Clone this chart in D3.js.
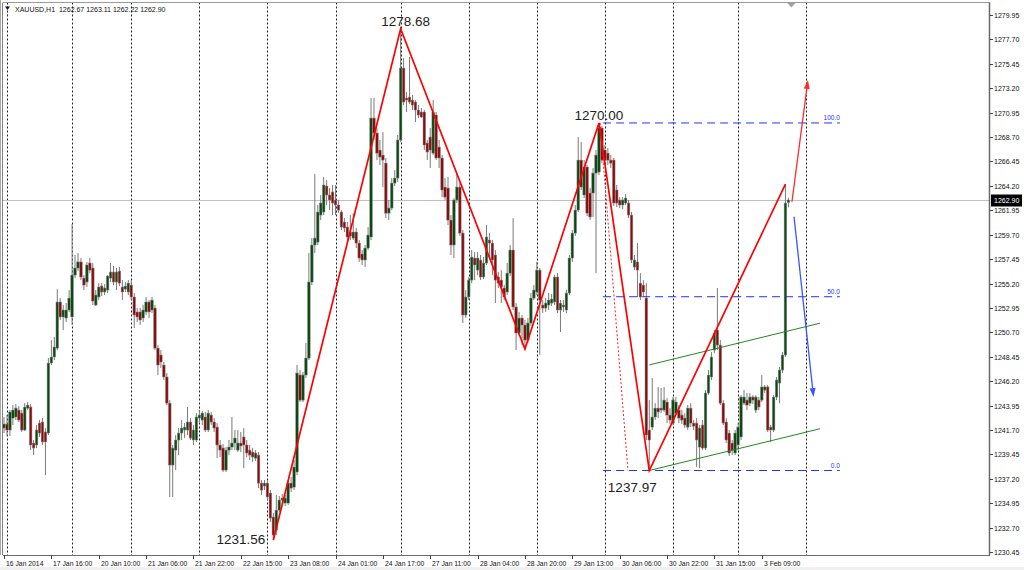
<!DOCTYPE html>
<html><head><meta charset="utf-8">
<script src="https://cdn.jsdelivr.net/npm/d3@7"></script>
<style>body{margin:0;background:#fff;overflow:hidden}svg{display:block;font-family:"Liberation Sans",Arial,sans-serif}</style>
</head><body><svg id="c" width="1024" height="570"></svg>
<script>
// ---------- DATA (XAUUSD H1) ----------
const open=[
1241.88,1242.25,1241.70,1242.80,1242.90,1243.54,1243.26,1241.70,1243.72,1243.82,
1240.50,1240.32,1242.34,1242.44,1241.52,1241.42,1247.87,1248.43,1249.25,1253.50,
1252.12,1252.02,1252.76,1252.12,1255.98,1256.63,1257.19,1255.70,1255.34,1257.09,
1256.63,1253.22,1253.96,1254.97,1254.42,1254.60,1255.70,1256.26,1255.34,1256.35,
1254.88,1254.69,1254.42,1255.06,1253.96,1252.58,1252.58,1252.02,1252.58,1253.50,
1252.76,1252.94,1249.25,1248.61,1247.69,1246.59,1244.18,1238.47,1239.85,1240.78,
1241.42,1241.70,1241.70,1242.44,1240.78,1240.78,1242.80,1242.62,1242.90,1241.70,
1243.08,1242.44,1241.97,1240.32,1240.04,1238.01,1239.85,1240.13,1240.50,1239.85,
1240.50,1241.06,1240.32,1239.85,1239.67,1239.11,1239.39,1236.81,1236.54,1236.81,
1235.89,1233.68,1232.48,1234.32,1235.25,1234.97,1234.97,1236.81,1236.44,1237.83,
1246.77,1244.46,1246.77,1248.33,1255.34,1258.75,1259.02,1261.51,1261.79,1264.19,
1263.36,1263.64,1262.90,1262.44,1261.79,1260.87,1260.41,1259.95,1259.39,1259.95,
1258.93,1257.92,1257.37,1258.47,1259.49,1270.45,1269.07,1267.50,1267.04,1266.30,
1261.69,1262.16,1264.46,1264.92,1268.43,1275.06,1272.30,1272.39,1272.11,1271.93,
1271.19,1271.01,1271.01,1268.15,1268.70,1267.22,1270.73,1267.78,1266.77,1264.09,
1264.00,1261.05,1258.75,1262.90,1264.09,1259.85,1252.30,1253.96,1255.52,1257.55,
1256.44,1257.37,1255.80,1257.09,1259.21,1258.93,1257.83,1255.80,1255.52,1254.79,
1254.42,1256.16,1258.29,1253.04,1250.64,1252.02,1251.38,1249.99,1251.56,1253.86,
1254.42,1256.44,1253.22,1252.94,1253.22,1253.40,1253.50,1255.80,1252.76,1253.22,
1252.76,1254.32,1257.55,1259.85,1261.97,1266.58,1263.36,1265.94,1263.54,1263.54,
1265.38,1265.48,1269.53,1267.50,1267.22,1266.58,1266.58,1263.82,1262.90,1262.44,
1262.62,1262.62,1261.51,1256.72,1257.19,1255.24,1255.06,1253.86,1241.70,1241.97,
1242.90,1243.72,1243.54,1243.54,1244.28,1243.08,1242.34,1243.26,1243.54,1243.08,
1242.80,1241.97,1243.72,1242.34,1242.34,1240.13,1242.16,1240.04,1245.11,1246.59,
1249.07,1250.91,1249.53,1244.18,1242.44,1241.42,1240.50,1239.58,1240.32,1241.06,
1244.18,1244.46,1244.18,1244.74,1243.54,1244.46,1244.46,1245.38,1245.67,1241.97,
1241.70,1244.74,1246.03,1247.23,1248.61,1262.67];
const high=[
1242.90,1243.08,1243.54,1244.00,1244.09,1243.91,1243.54,1244.18,1244.28,1244.09,
1240.78,1242.16,1242.62,1242.80,1241.88,1248.33,1249.99,1250.27,1254.69,1253.86,
1253.22,1253.40,1254.60,1260.68,1257.83,1258.01,1257.55,1255.98,1257.19,1257.55,
1257.09,1254.60,1255.24,1255.24,1255.15,1255.98,1257.09,1256.82,1256.63,1256.72,
1255.52,1255.34,1255.52,1255.52,1254.32,1252.94,1252.94,1253.22,1253.96,1253.68,
1253.96,1253.22,1249.53,1249.07,1247.97,1246.95,1244.46,1240.32,1241.24,1241.88,
1242.62,1242.34,1243.82,1242.80,1242.16,1243.26,1243.54,1243.45,1243.36,1243.54,
1243.36,1242.80,1242.34,1240.78,1240.41,1240.13,1240.78,1242.90,1241.70,1241.70,
1241.52,1241.88,1240.78,1240.32,1240.04,1239.85,1239.67,1237.09,1237.09,1237.09,
1236.17,1234.05,1235.71,1235.62,1235.80,1235.71,1237.09,1237.37,1238.93,1247.69,
1247.23,1247.05,1249.72,1258.01,1259.39,1265.29,1262.44,1263.36,1265.02,1264.74,
1264.00,1264.28,1264.28,1262.90,1261.97,1261.23,1260.87,1261.51,1261.69,1260.32,
1259.21,1258.29,1258.75,1260.41,1272.30,1272.30,1269.53,1268.43,1269.16,1266.77,
1262.90,1264.92,1265.66,1268.89,1278.68,1275.98,1272.85,1276.08,1272.57,1272.11,
1271.65,1271.38,1271.19,1268.43,1269.53,1272.11,1271.01,1268.43,1267.04,1264.92,
1265.02,1261.51,1263.08,1265.38,1264.46,1260.13,1254.60,1255.80,1258.29,1258.10,
1258.10,1257.83,1257.64,1260.59,1259.85,1259.21,1258.29,1256.26,1256.44,1255.06,
1257.09,1258.75,1261.23,1253.40,1252.58,1252.30,1251.84,1252.02,1254.32,1255.06,
1257.19,1256.63,1253.68,1253.86,1254.32,1254.23,1255.98,1256.16,1253.68,1253.68,
1254.60,1257.83,1260.13,1262.44,1268.70,1268.24,1266.58,1266.12,1264.00,1265.85,
1267.50,1270.00,1269.72,1267.97,1267.69,1267.04,1266.77,1264.28,1263.17,1263.17,
1263.45,1262.90,1261.79,1257.83,1258.93,1256.16,1255.52,1255.24,1244.46,1246.49,
1244.18,1245.67,1245.57,1245.67,1244.64,1243.72,1244.74,1244.74,1244.00,1243.54,
1243.26,1244.00,1244.18,1242.62,1242.80,1242.16,1242.62,1245.38,1247.23,1248.89,
1250.91,1254.79,1249.99,1244.46,1242.80,1241.70,1240.78,1241.70,1242.34,1244.92,
1245.38,1245.11,1245.11,1244.92,1244.92,1244.74,1246.77,1245.85,1245.85,1242.16,
1244.92,1246.59,1247.51,1248.89,1264.37,1263.11];
const low=[
1241.42,1241.15,1241.15,1242.16,1242.62,1242.44,1241.52,1241.61,1243.54,1239.85,
1239.39,1240.04,1241.06,1240.32,1237.55,1241.24,1247.69,1248.15,1249.07,1251.84,
1250.91,1251.66,1252.58,1251.38,1255.70,1256.35,1255.52,1254.60,1254.88,1256.16,
1253.22,1253.13,1253.68,1254.05,1254.14,1254.32,1255.34,1255.06,1254.60,1254.97,
1253.68,1254.42,1254.14,1253.68,1251.10,1251.66,1251.38,1251.66,1252.30,1252.02,
1252.48,1249.07,1246.77,1247.41,1246.31,1244.00,1235.53,1235.53,1238.01,1239.39,
1240.78,1240.96,1241.24,1240.78,1240.32,1240.60,1242.44,1242.16,1241.52,1241.52,
1242.16,1241.52,1239.11,1239.21,1237.83,1237.83,1239.39,1239.85,1239.85,1239.67,
1239.67,1238.19,1239.21,1238.93,1238.75,1238.84,1236.35,1235.71,1236.17,1235.25,
1233.22,1231.56,1232.02,1234.14,1234.88,1234.69,1234.79,1235.99,1236.17,1237.55,
1244.28,1244.28,1246.49,1248.15,1255.06,1258.01,1258.75,1261.05,1261.51,1262.44,
1261.97,1261.51,1261.51,1261.69,1260.13,1259.95,1259.21,1259.21,1259.21,1258.47,
1257.19,1256.91,1256.72,1258.29,1259.21,1268.43,1266.58,1266.12,1264.09,1261.23,
1261.05,1261.97,1264.19,1264.56,1268.24,1271.65,1271.01,1271.74,1271.19,1270.09,
1270.45,1270.45,1267.50,1266.58,1265.85,1267.04,1266.58,1265.85,1263.17,1262.90,
1260.59,1257.83,1257.55,1262.62,1259.58,1251.56,1252.02,1253.68,1255.24,1255.52,
1255.98,1255.52,1255.61,1256.91,1257.64,1255.98,1253.40,1254.79,1253.40,1253.68,
1254.14,1255.89,1252.76,1249.07,1250.36,1249.53,1249.16,1249.72,1251.28,1253.68,
1254.14,1248.61,1252.48,1252.58,1252.76,1253.13,1253.22,1252.48,1250.73,1252.58,
1252.48,1254.14,1257.19,1259.58,1261.79,1263.82,1263.08,1261.42,1261.05,1261.33,
1256.16,1265.20,1266.30,1266.12,1266.12,1265.85,1262.34,1262.25,1262.16,1262.06,
1262.44,1261.23,1257.09,1256.44,1253.96,1253.68,1253.96,1240.78,1237.97,1241.70,
1242.62,1242.80,1243.26,1243.36,1242.34,1242.25,1242.16,1243.08,1242.34,1242.25,
1241.88,1241.70,1241.97,1241.70,1238.29,1238.19,1239.85,1239.85,1244.92,1246.31,
1248.79,1249.07,1244.00,1242.16,1240.50,1239.30,1239.39,1239.39,1239.85,1240.78,
1244.00,1243.54,1243.91,1244.09,1243.26,1243.54,1244.28,1245.11,1241.52,1240.60,
1241.52,1244.46,1244.18,1246.95,1248.43,1262.22];
const close=[
1242.25,1241.70,1243.36,1243.54,1243.72,1242.62,1241.70,1243.82,1244.00,1240.32,
1240.04,1241.70,1241.42,1240.60,1240.60,1247.87,1248.43,1249.35,1253.50,1252.12,
1252.76,1252.76,1253.86,1255.98,1256.63,1257.19,1255.80,1255.06,1256.91,1256.44,
1253.59,1254.14,1254.88,1254.42,1254.79,1255.89,1256.26,1255.34,1256.26,1255.24,
1254.42,1254.97,1255.24,1253.96,1252.30,1252.12,1251.84,1252.76,1253.50,1252.58,
1253.68,1249.25,1247.69,1247.97,1246.59,1244.18,1238.47,1240.04,1240.78,1241.42,
1241.88,1241.97,1242.44,1240.96,1241.70,1242.90,1243.08,1243.26,1241.70,1243.26,
1242.44,1241.88,1240.32,1239.85,1238.01,1239.85,1240.13,1240.50,1240.96,1240.50,
1240.23,1240.32,1239.58,1239.39,1239.21,1239.58,1236.81,1236.17,1236.81,1235.53,
1233.58,1232.02,1234.32,1235.25,1235.43,1235.43,1236.81,1236.35,1238.29,1246.95,
1244.46,1246.77,1248.33,1255.34,1258.75,1259.39,1261.79,1262.62,1264.28,1263.36,
1262.90,1262.62,1262.44,1261.97,1260.41,1260.32,1259.49,1259.58,1259.95,1258.93,
1257.55,1257.37,1258.47,1259.67,1270.45,1269.07,1267.22,1266.86,1266.58,1261.69,
1262.16,1264.46,1264.92,1268.43,1275.06,1271.93,1272.11,1271.93,1271.65,1271.19,
1270.73,1270.55,1267.97,1267.32,1267.50,1271.01,1266.77,1266.77,1263.82,1263.17,
1261.05,1258.75,1262.90,1264.09,1259.85,1252.30,1253.96,1255.52,1257.64,1256.91,
1257.55,1255.80,1257.09,1259.49,1258.93,1257.37,1255.52,1255.24,1254.88,1253.96,
1256.16,1258.29,1253.04,1250.64,1252.02,1251.38,1249.99,1251.56,1253.86,1254.60,
1256.44,1253.68,1252.94,1253.40,1253.68,1253.77,1255.80,1252.76,1253.40,1253.04,
1254.32,1257.55,1259.85,1261.97,1266.58,1264.09,1265.94,1261.69,1261.33,1265.38,
1267.04,1269.53,1266.58,1266.58,1266.58,1266.30,1262.62,1262.62,1262.44,1262.90,
1263.08,1261.51,1257.37,1257.37,1256.44,1253.96,1254.42,1241.24,1240.78,1242.90,
1243.72,1243.36,1243.72,1244.46,1243.08,1242.62,1244.46,1244.28,1242.80,1242.62,
1242.16,1243.72,1242.34,1242.06,1240.78,1241.88,1240.04,1245.11,1246.77,1248.43,
1250.64,1249.53,1244.18,1242.34,1240.78,1239.58,1239.85,1241.42,1241.97,1244.74,
1244.74,1244.00,1244.74,1244.46,1244.74,1243.82,1245.67,1245.67,1241.70,1241.70,
1244.74,1246.31,1247.23,1248.61,1262.62,1262.90];

const xTickLabels=["16 Jan 2014","17 Jan 16:00","20 Jan 10:00","21 Jan 06:00","21 Jan 22:00","22 Jan 15:00","23 Jan 08:00","24 Jan 01:00","24 Jan 17:00","27 Jan 11:00","28 Jan 04:00","28 Jan 20:00","29 Jan 13:00","30 Jan 06:00","30 Jan 22:00","31 Jan 15:00","3 Feb 09:00"];
const barsPerLabel=16;
const yTickValues=[1279.95,1277.70,1275.45,1273.20,1270.95,1268.70,1266.45,1264.20,1261.95,1259.70,1257.45,1255.20,1252.95,1250.70,1248.45,1246.20,1243.95,1241.70,1239.45,1237.20,1234.95,1232.70,1230.45];
const daySeparatorBars=[1,23,43,66,89,112,134,157,180,203,226,248,271];
const symbol="XAUUSD,H1";
const lastBar={o:1262.67,h:1263.11,l:1262.22,c:1262.90};

const zigzagBars=[91,134,176,201,218,264];
const zigzagPrices=[1231.56,1278.68,1249.16,1270.00,1237.97,1264.37];
const zigzagLabels=["1231.56","1278.68",null,"1270.00","1237.97",null];

const fibLevels=["0.0","50.0","100.0"];
const fibPrices=[1237.97,1253.985,1270.00];
const fibBars=[202.4,282.4];

const channelBars=[218,275.7];
const channelUpper=[1247.70,1251.55];
const channelLower=[1237.97,1241.82];

const dottedBars=[201.4,210.8];
const dottedPrices=[1270.00,1237.97];

const redArrowBars=[266.2,271.6];
const redArrowPrices=[1262.74,1273.96];
const blueArrowBars=[266.9,273.5];
const blueArrowPrices=[1261.36,1244.74];

// ---------- LAYOUT ----------
const svg=d3.select("#c");
const P={left:3,right:990,top:2.5,bottom:555};
const x=d3.scaleLinear().domain([0,265]).range([4,788.4]);
const y=d3.scaleLinear().domain([1230.45,1279.95]).range([552.1,15]);

svg.append("rect").attr("width",1024).attr("height",570).attr("fill","#fff");
svg.append("rect").attr("x",0).attr("y",567).attr("width",1024).attr("height",3).attr("fill","#f0f0f0");

svg.append("defs").append("clipPath").attr("id","clip").append("rect")
  .attr("x",P.left).attr("y",P.top).attr("width",P.right-P.left).attr("height",P.bottom-P.top);
const g=svg.append("g").attr("clip-path","url(#clip)");

// day separators
g.selectAll("line.sep").data(daySeparatorBars).join("line")
  .attr("x1",d=>Math.round(x(d))+0.5).attr("x2",d=>Math.round(x(d))+0.5)
  .attr("y1",P.top).attr("y2",P.bottom)
  .attr("stroke","#222").attr("stroke-width",1).attr("stroke-dasharray","2,2");

// current price line
g.append("line").attr("x1",P.left).attr("x2",P.right)
  .attr("y1",Math.round(y(lastBar.c))+0.5).attr("y2",Math.round(y(lastBar.c))+0.5)
  .attr("stroke","#c0c0c0").attr("stroke-width",1);

// candles
const bars=open.map((o,i)=>({i,o,h:high[i],l:low[i],c:close[i]}));
g.selectAll("line.wick").data(bars).join("line")
  .attr("x1",d=>x(d.i)).attr("x2",d=>x(d.i))
  .attr("y1",d=>y(d.h)).attr("y2",d=>y(d.l))
  .attr("stroke","#7a7a7a").attr("stroke-width",1);
g.selectAll("rect.body").data(bars).join("rect")
  .attr("x",d=>x(d.i)-1.3).attr("width",2.6)
  .attr("y",d=>y(Math.max(d.o,d.c)))
  .attr("height",d=>Math.max(1,Math.abs(y(d.o)-y(d.c))))
  .attr("fill",d=>d.c>=d.o?"#0b4a12":"#8c0d0d")
  .attr("stroke","#888").attr("stroke-width",0.5);

// fibo levels
const fibG=g.append("g");
fibPrices.forEach((p,k)=>{
  fibG.append("line").attr("x1",x(fibBars[0])).attr("x2",x(fibBars[1]))
    .attr("y1",y(p)).attr("y2",y(p))
    .attr("stroke","#2233ff").attr("stroke-width",1).attr("stroke-dasharray","8,5");
  fibG.append("text").attr("x",x(fibBars[1])).attr("y",y(p)-2.5)
    .attr("text-anchor","end").attr("font-size",6.5).attr("fill","#2233ff").text(fibLevels[k]);
});

// channel
[channelUpper,channelLower].forEach(ch=>{
  g.append("line").attr("x1",x(channelBars[0])).attr("x2",x(channelBars[1]))
    .attr("y1",y(ch[0])).attr("y2",y(ch[1]))
    .attr("stroke","#1f8a1f").attr("stroke-width",1);
});

// dotted red line
g.append("line").attr("x1",x(dottedBars[0])).attr("x2",x(dottedBars[1]))
  .attr("y1",y(dottedPrices[0])).attr("y2",y(dottedPrices[1]))
  .attr("stroke","#ff2020").attr("stroke-width",1).attr("stroke-dasharray","2,2");

// zigzag
const zz=zigzagBars.map((b,k)=>[x(b),y(zigzagPrices[k])]);
g.append("path").attr("d",d3.line()(zz)).attr("fill","none")
  .attr("stroke","#ff0000").attr("stroke-width",1.7).attr("stroke-linejoin","miter");

// arrows
function arrow(bs,ps,color,w){
  const p0=[x(bs[0]),y(ps[0])],p1=[x(bs[1]),y(ps[1])];
  const dx=p1[0]-p0[0],dy=p1[1]-p0[1],L=Math.hypot(dx,dy);
  const ux=dx/L,uy=dy/L,nx=-uy,ny=ux,len=9,hw=3;
  const b=[p1[0]-ux*len,p1[1]-uy*len];
  g.append("line").attr("x1",p0[0]).attr("y1",p0[1]).attr("x2",b[0]).attr("y2",b[1])
    .attr("stroke",color).attr("stroke-width",w);
  g.append("path").attr("d",`M${p1[0]},${p1[1]}L${b[0]+nx*hw},${b[1]+ny*hw}L${b[0]-nx*hw},${b[1]-ny*hw}Z`)
    .attr("fill",color);
}
arrow(redArrowBars,redArrowPrices,"#ff2a2a",1.3);
arrow(blueArrowBars,blueArrowPrices,"#3a55ff",1.3);

// zigzag labels
const labelOffsets=[[-8,4,"end"],[5,-3,"middle"],null,[0,-3,"middle"],[-17,21,"middle"]];
zigzagLabels.forEach((t,k)=>{
  if(!t) return;
  const o=labelOffsets[k];
  svg.append("text").attr("x",zz[k][0]+o[0]).attr("y",zz[k][1]+o[1])
    .attr("text-anchor",o[2]).attr("font-size",13.5).attr("fill","#222").text(t);
});

// frame
svg.append("line").attr("x1",0.5).attr("x2",0.5).attr("y1",0).attr("y2",P.bottom).attr("stroke","#a8a8a8");
svg.append("line").attr("x1",2.5).attr("x2",2.5).attr("y1",P.top).attr("y2",P.bottom).attr("stroke","#808080");
svg.append("line").attr("x1",P.left).attr("x2",P.right).attr("y1",P.top).attr("y2",P.top).attr("stroke","#9a9a9a");
svg.append("line").attr("x1",P.right-0.5).attr("x2",P.right-0.5).attr("y1",P.top).attr("y2",P.bottom).attr("stroke","#6a6a6a").attr("stroke-width",1.5);
svg.append("line").attr("x1",P.left).attr("x2",P.right).attr("y1",P.bottom+0.5).attr("y2",P.bottom+0.5).attr("stroke","#6a6a6a").attr("stroke-width",1);

// chart shift marker
const sx=x(open.length);
svg.append("path").attr("d",`M${sx-4},${P.top+0.5}L${sx+4},${P.top+0.5}L${sx},${P.top+5}Z`).attr("fill","#a0a0a0");

// y axis
const ya=svg.append("g");
yTickValues.forEach(v=>{
  const yy=Math.round(y(v))+0.5;
  ya.append("line").attr("x1",P.right).attr("x2",P.right+3).attr("y1",yy).attr("y2",yy).attr("stroke","#444");
  ya.append("text").attr("x",P.right+4).attr("y",yy).attr("dy","0.35em")
    .attr("font-size",7).attr("fill","#111").text(d3.format(".2f")(v));
});
const cy=Math.round(y(lastBar.c))+0.5;
ya.append("rect").attr("x",P.right+1).attr("y",cy-6).attr("width",31).attr("height",12).attr("fill","#000");
ya.append("text").attr("x",P.right+4).attr("y",cy).attr("dy","0.35em")
  .attr("font-size",7).attr("fill","#fff").text(d3.format(".2f")(lastBar.c));

// x axis
const xa=svg.append("g");
xTickLabels.forEach((t,k)=>{
  const xx=Math.round(x(k*barsPerLabel))+0.5;
  xa.append("line").attr("x1",xx).attr("x2",xx).attr("y1",P.bottom).attr("y2",P.bottom+4).attr("stroke","#444");
  xa.append("text").attr("x",xx+1.5).attr("y",565.5).attr("font-size",6.8).attr("fill","#111").text(t);
});

// header
svg.append("path").attr("d","M5,6.5L10,6.5L7.5,10Z").attr("fill","#111");
svg.append("text").attr("x",15).attr("y",11.5).attr("font-size",7).attr("fill","#111")
  .attr("xml:space","preserve")
  .text(`${symbol}  ${lastBar.o.toFixed(2)} ${lastBar.h.toFixed(2)} ${lastBar.l.toFixed(2)} ${lastBar.c.toFixed(2)}`);
</script></body></html>
